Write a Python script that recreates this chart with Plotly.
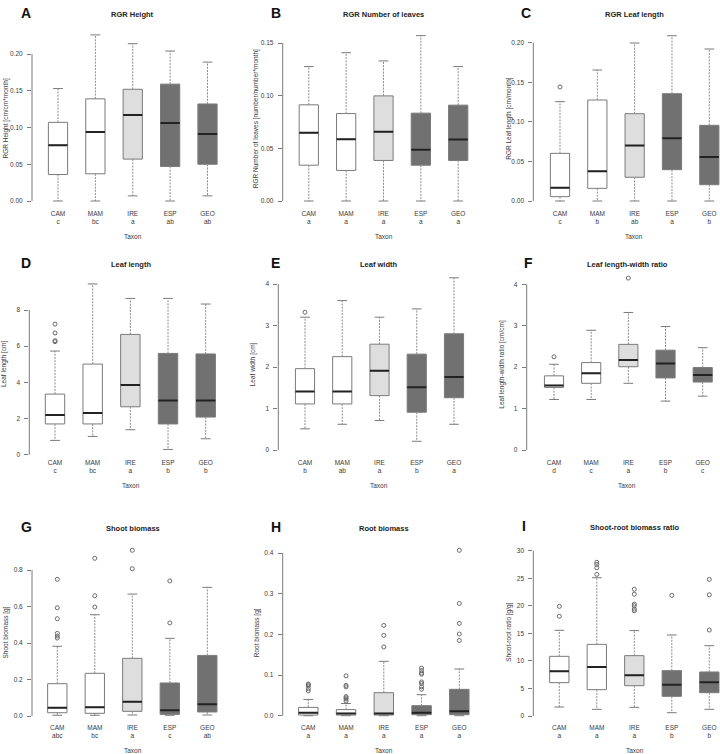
import plotly.graph_objects as go

W, H = 720, 754
FONT = "Liberation Sans, Arial, Helvetica, sans-serif"

taxa = ["CAM", "MAM", "IRE", "ESP", "GEO"]
fills = ["#ffffff", "#ffffff", "#dedede", "#717171", "#717171"]

# ---- A: RGR Height
a_lo = [0.0, 0.0, 0.007, 0.0, 0.007]
a_q1 = [0.036, 0.037, 0.057, 0.047, 0.050]
a_md = [0.076, 0.094, 0.117, 0.106, 0.091]
a_q3 = [0.107, 0.139, 0.152, 0.159, 0.132]
a_hi = [0.153, 0.226, 0.214, 0.204, 0.189]
a_out = [[], [], [], [], []]
a_let = ["c", "bc", "a", "ab", "ab"]
a_ticks = [0.0, 0.05, 0.10, 0.15, 0.20]
a_ticktext = ["0.00", "0.05", "0.10", "0.15", "0.20"]

# ---- B: RGR Number of leaves
b_lo = [0.0, 0.0, 0.0, 0.0, 0.0]
b_q1 = [0.034, 0.029, 0.0385, 0.034, 0.0385]
b_md = [0.0647, 0.0587, 0.0657, 0.0486, 0.0584]
b_q3 = [0.0913, 0.083, 0.0998, 0.0834, 0.091]
b_hi = [0.1276, 0.1408, 0.133, 0.157, 0.1276]
b_out = [[], [], [], [], []]
b_let = ["a", "a", "a", "a", "a"]
b_ticks = [0.0, 0.05, 0.10, 0.15]
b_ticktext = ["0.00", "0.05", "0.10", "0.15"]

# ---- C: RGR Leaf length
c_lo = [0.0, 0.0, 0.0, 0.0, 0.0]
c_q1 = [0.0055, 0.016, 0.030, 0.0396, 0.0206]
c_md = [0.0168, 0.0375, 0.070, 0.0792, 0.0556]
c_q3 = [0.0602, 0.1276, 0.1103, 0.1356, 0.0956]
c_hi = [0.1255, 0.1655, 0.1996, 0.2088, 0.192]
c_out = [[0.144], [], [], [], []]
c_let = ["c", "b", "ab", "a", "b"]
c_ticks = [0.0, 0.05, 0.10, 0.15, 0.20]
c_ticktext = ["0.00", "0.05", "0.10", "0.15", "0.20"]

# ---- D: Leaf length
d_lo = [0.79, 1.01, 1.38, 0.29, 0.88]
d_q1 = [1.70, 1.70, 2.65, 1.70, 2.08]
d_md = [2.19, 2.30, 3.85, 3.00, 3.00]
d_q3 = [3.35, 5.01, 6.65, 5.60, 5.57]
d_hi = [5.73, 9.44, 8.64, 8.64, 8.33]
d_out = [[7.22, 6.73, 6.30, 6.25], [], [], [], []]
d_let = ["c", "bc", "a", "b", "b"]
d_ticks = [0, 2, 4, 6, 8]
d_ticktext = ["0", "2", "4", "6", "8"]

# ---- E: Leaf width
e_lo = [0.51, 0.62, 0.71, 0.21, 0.62]
e_q1 = [1.11, 1.11, 1.31, 0.91, 1.26]
e_md = [1.41, 1.41, 1.91, 1.51, 1.76]
e_q3 = [1.96, 2.25, 2.55, 2.31, 2.80]
e_hi = [3.20, 3.60, 3.20, 3.40, 4.15]
e_out = [[3.32], [], [], [], []]
e_let = ["b", "ab", "a", "b", "a"]
e_ticks = [0, 1, 2, 3, 4]
e_ticktext = ["0", "1", "2", "3", "4"]

# ---- F: Leaf length-width ratio
f_lo = [1.22, 1.22, 1.61, 1.18, 1.30]
f_q1 = [1.51, 1.61, 2.01, 1.74, 1.64]
f_md = [1.56, 1.85, 2.17, 2.09, 1.81]
f_q3 = [1.79, 2.11, 2.55, 2.41, 1.99]
f_hi = [2.07, 2.89, 3.32, 2.98, 2.47]
f_out = [[2.25], [], [4.15], [], []]
f_let = ["d", "c", "a", "b", "c"]
f_ticks = [0, 1, 2, 3, 4]
f_ticktext = ["0", "1", "2", "3", "4"]

# ---- G: Shoot biomass
g_lo = [0.004, 0.004, 0.0055, 0.004, 0.0055]
g_q1 = [0.018, 0.0148, 0.0256, 0.009, 0.022]
g_md = [0.0455, 0.0477, 0.0785, 0.031, 0.064]
g_q3 = [0.177, 0.234, 0.316, 0.181, 0.332]
g_hi = [0.382, 0.555, 0.668, 0.4256, 0.705]
g_out = [[0.749, 0.593, 0.533, 0.453, 0.438, 0.427], [0.864, 0.659, 0.597],
         [0.908, 0.807], [0.740, 0.510], []]
g_let = ["abc", "bc", "a", "c", "ab"]
g_ticks = [0.0, 0.2, 0.4, 0.6, 0.8]
g_ticktext = ["0.0", "0.2", "0.4", "0.6", "0.8"]

# ---- H: Root biomass
h_lo = [0.0, 0.0, 0.0, 0.0, 0.0]
h_q1 = [0.0016, 0.0016, 0.0016, 0.0025, 0.0025]
h_md = [0.0074, 0.0057, 0.0057, 0.0074, 0.0107]
h_q3 = [0.0205, 0.015, 0.0566, 0.0246, 0.0648]
h_hi = [0.040, 0.030, 0.1336, 0.0516, 0.1148]
h_out = [[0.078, 0.076, 0.073, 0.066, 0.061],
         [0.098, 0.0746, 0.071, 0.047, 0.044, 0.041, 0.036],
         [0.222, 0.1975, 0.169],
         [0.117, 0.111, 0.105, 0.102, 0.083, 0.079, 0.071, 0.065],
         [0.4066, 0.276, 0.227, 0.2008, 0.185]]
h_let = ["a", "a", "a", "a", "a"]
h_ticks = [0.0, 0.1, 0.2, 0.3, 0.4]
h_ticktext = ["0.0", "0.1", "0.2", "0.3", "0.4"]

# ---- I: Shoot-root biomass ratio
i_lo = [1.63, 1.21, 1.57, 0.60, 1.21]
i_q1 = [6.05, 4.78, 5.50, 3.57, 4.23]
i_md = [8.11, 8.89, 7.38, 5.69, 6.11]
i_q3 = [10.83, 13.0, 10.95, 8.23, 7.99]
i_hi = [15.55, 25.1, 15.5, 14.7, 12.76]
i_out = [[19.9, 18.1], [27.9, 27.5, 26.9, 25.7],
         [23.0, 22.1, 20.3, 20.0, 19.4, 19.1], [21.9], [24.8, 22.0, 15.6]]
i_let = ["a", "a", "a", "b", "b"]
i_ticks = [0, 5, 10, 15, 20, 25, 30]
i_ticktext = ["0", "5", "10", "15", "20", "25", "30"]

panel_letters = ["A", "B", "C", "D", "E", "F", "G", "H", "I"]
titles = ["RGR Height", "RGR Number of leaves", "RGR Leaf length",
          "Leaf length", "Leaf width", "Leaf length-width ratio",
          "Shoot biomass", "Root biomass", "Shoot-root biomass ratio"]
ytitles = ["RGR Height [cm/cm*month]", "RGR Number of leaves [number/number*month]",
           "RGR Leaf length [cm/month]", "Leaf length [cm]", "Leaf width [cm]",
           "Leaf length-width ratio [cm/cm]", "Shoot biomass [g]", "Root biomass [g]",
           "Shoot-root ratio [g/g]"]

stats = [
    (a_lo, a_q1, a_md, a_q3, a_hi, a_out, a_let, a_ticks, a_ticktext),
    (b_lo, b_q1, b_md, b_q3, b_hi, b_out, b_let, b_ticks, b_ticktext),
    (c_lo, c_q1, c_md, c_q3, c_hi, c_out, c_let, c_ticks, c_ticktext),
    (d_lo, d_q1, d_md, d_q3, d_hi, d_out, d_let, d_ticks, d_ticktext),
    (e_lo, e_q1, e_md, e_q3, e_hi, e_out, e_let, e_ticks, e_ticktext),
    (f_lo, f_q1, f_md, f_q3, f_hi, f_out, f_let, f_ticks, f_ticktext),
    (g_lo, g_q1, g_md, g_q3, g_hi, g_out, g_let, g_ticks, g_ticktext),
    (h_lo, h_q1, h_md, h_q3, h_hi, h_out, h_let, h_ticks, h_ticktext),
    (i_lo, i_q1, i_md, i_q3, i_hi, i_out, i_let, i_ticks, i_ticktext),
]

# ---- layout geometry (pixels): axis x, first/last box centre, plot top/bottom,
#      two reference ticks (value, pixel y)
geom = [
    dict(ax=32, c1=58, c5=207.5, T=29, B=208, v0=0, p0=201, v1=0.20, p1=54),
    dict(ax=282.7, c1=308.8, c5=458.2, T=29, B=208, v0=0, p0=201, v1=0.15, p1=43),
    dict(ax=533.3, c1=560, c5=709.3, T=29, B=208, v0=0, p0=201, v1=0.20, p1=42.7),
    dict(ax=29.3, c1=55, c5=205.7, T=271, B=457, v0=0, p0=454.7, v1=8, p1=310),
    dict(ax=278.3, c1=305, c5=454, T=271, B=457, v0=0, p0=450, v1=4, p1=284),
    dict(ax=526.7, c1=554, c5=702.7, T=271, B=457, v0=0, p0=450, v1=4, p1=284.3),
    dict(ax=32, c1=57.3, c5=207.3, T=543, B=722, v0=0, p0=716, v1=0.8, p1=570),
    dict(ax=282.7, c1=308.3, c5=459.3, T=543, B=722, v0=0, p0=715.7, v1=0.4, p1=553),
    dict(ax=533.3, c1=559.3, c5=709.3, T=543, B=722, v0=0, p0=716, v1=30, p1=550.7),
]
letter_pos = [(25.5, 13.3), (276, 13.3), (526, 13.3),
              (25.7, 263), (275.7, 263), (528.3, 263),
              (26.5, 526.7), (276, 526.7), (524.3, 526)]
ytitle_x = [6, 256.7, 509.3, 4, 253.3, 501.7, 5, 256.7, 508.3]

BOXW = 0.515
CAPW = 0.26
TXT = "#3a3a3a"
LINE = "#7a7a7a"

fig = go.Figure()
layout = dict(width=W, height=H, margin=dict(l=0, r=0, t=0, b=0),
              paper_bgcolor="white", plot_bgcolor="white", showlegend=False,
              font=dict(family=FONT, size=6.5, color=TXT))
shapes = []
annotations = []

for k, (lo, q1, md, q3, hi, outs, lets, ticks, ticktext) in enumerate(stats):
    g = geom[k]
    n = k + 1
    xr = "x" if n == 1 else f"x{n}"
    yr = "y" if n == 1 else f"y{n}"
    xa = "xaxis" if n == 1 else f"xaxis{n}"
    ya = "yaxis" if n == 1 else f"yaxis{n}"
    s = (g["c5"] - g["c1"]) / 4.0
    x0 = 1 - (g["c1"] - g["ax"]) / s
    right = min(g["ax"] + (5.7 - x0) * s, W)
    x1 = x0 + (right - g["ax"]) / s
    scale = (g["p0"] - g["p1"]) / (g["v1"] - g["v0"])
    ytop = g["v0"] + (g["p0"] - g["T"]) / scale
    ybot = g["v0"] - (g["B"] - g["p0"]) / scale

    layout[xa] = dict(domain=[g["ax"] / W, right / W], range=[x0, x1], anchor=yr,
                      tickvals=[1, 2, 3, 4, 5],
                      ticktext=[f"{t}<br>{l}" for t, l in zip(taxa, lets)],
                      showgrid=False, zeroline=False, showline=False, ticks="",
                      tickfont=dict(size=6.5, color=TXT, family=FONT))
    layout[ya] = dict(domain=[1 - g["B"] / H, 1 - g["T"] / H], range=[ybot, ytop],
                      anchor=xr, tickvals=ticks, ticktext=ticktext,
                      showgrid=False, zeroline=False, showline=False,
                      ticks="outside", ticklen=4, tickwidth=1, tickcolor=LINE,
                      ticklabelstandoff=3,
                      tickfont=dict(size=6.5, color=TXT, family=FONT))
    shapes.append(dict(type="line", xref=f"{xr} domain", yref=yr, x0=0, x1=0,
                       y0=ticks[0], y1=ticks[-1], line=dict(color=LINE, width=1)))

    pos = [1, 2, 3, 4, 5]
    for j in range(5):
        fig.add_trace(go.Box(x=[pos[j]], q1=[q1[j]], median=[md[j]], q3=[q3[j]],
                             lowerfence=[q1[j]], upperfence=[q3[j]],
                             width=BOXW, whiskerwidth=0, boxpoints=False,
                             fillcolor=fills[j], line=dict(color=LINE, width=1),
                             xaxis=xr, yaxis=yr, hoverinfo="skip"))
    wx, wy, cx, cy, mx, my = [], [], [], [], [], []
    for j in range(5):
        p = pos[j]
        wx += [p, p, None, p, p, None]
        wy += [q3[j], hi[j], None, q1[j], lo[j], None]
        cx += [p - CAPW / 2, p + CAPW / 2, None, p - CAPW / 2, p + CAPW / 2, None]
        cy += [hi[j], hi[j], None, lo[j], lo[j], None]
        mx += [p - BOXW / 2, p + BOXW / 2, None]
        my += [md[j], md[j], None]
    fig.add_trace(go.Scatter(x=wx, y=wy, mode="lines", xaxis=xr, yaxis=yr,
                             line=dict(color="#8c8c8c", width=1, dash="2px,1.2px"),
                             hoverinfo="skip"))
    fig.add_trace(go.Scatter(x=cx, y=cy, mode="lines", xaxis=xr, yaxis=yr,
                             line=dict(color=LINE, width=1), hoverinfo="skip"))
    fig.add_trace(go.Scatter(x=mx, y=my, mode="lines", xaxis=xr, yaxis=yr,
                             line=dict(color="#222222", width=2), hoverinfo="skip"))
    ox, oy = [], []
    for j in range(5):
        ox += [pos[j]] * len(outs[j])
        oy += outs[j]
    if ox:
        fig.add_trace(go.Scatter(x=ox, y=oy, mode="markers", xaxis=xr, yaxis=yr,
                                 marker=dict(symbol="circle-open", size=4,
                                             color="#6a6a6a", line=dict(width=1)),
                                 cliponaxis=False, hoverinfo="skip"))

    cxp = (g["ax"] + right) / 2
    if right >= W:
        cxp = (g["ax"] + g["ax"] + 5.4 * s) / 2
    annotations.append(dict(text=f"<b>{panel_letters[k]}</b>", xref="paper", yref="paper",
                            x=letter_pos[k][0] / W, y=1 - letter_pos[k][1] / H,
                            xanchor="center", yanchor="middle", showarrow=False,
                            font=dict(size=14, color="#111111", family=FONT)))
    annotations.append(dict(text=f"<b>{titles[k]}</b>", xref="paper", yref="paper",
                            x=cxp / W, y=1 - (letter_pos[k][1] + 1.5) / H,
                            xanchor="center", yanchor="middle", showarrow=False,
                            font=dict(size=7.5, color="#222222", family=FONT)))
    annotations.append(dict(text=ytitles[k], xref="paper", yref="paper", textangle=-90,
                            x=ytitle_x[k] / W, y=1 - ((g["T"] + g["B"]) / 2) / H,
                            xanchor="center", yanchor="middle", showarrow=False,
                            font=dict(size=6.5, color=TXT, family=FONT)))
    annotations.append(dict(text="Taxon", xref="paper", yref="paper",
                            x=cxp / W, y=1 - (g["B"] + 28) / H,
                            xanchor="center", yanchor="middle", showarrow=False,
                            font=dict(size=6.5, color=TXT, family=FONT)))

layout["shapes"] = shapes
layout["annotations"] = annotations
fig.update_layout(**layout)
fig.write_html("out.html",
               config={"displayModeBar": False, "staticPlot": True},
               post_script="document.body.style.margin='0px';"
                           "document.body.style.overflow='hidden';")
